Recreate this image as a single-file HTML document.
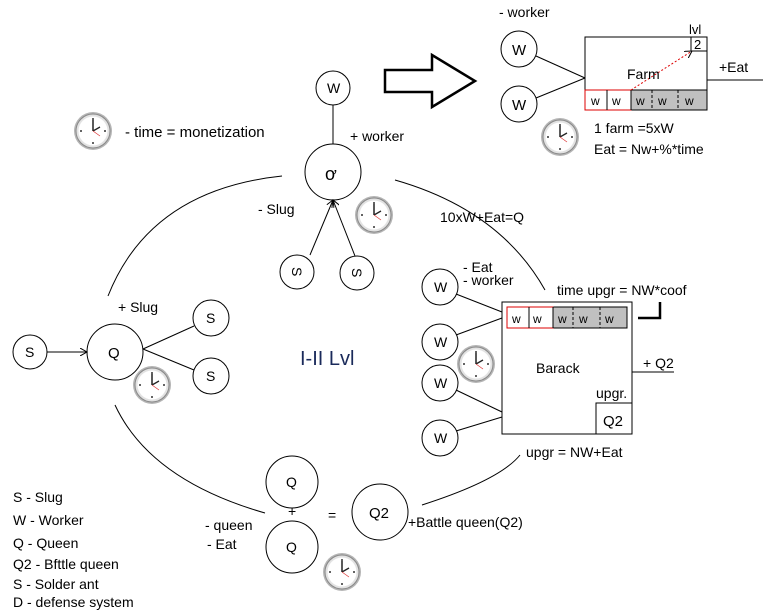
<!DOCTYPE html>
<html><head><meta charset="utf-8"><style>
html,body{margin:0;padding:0;background:#fff;}
svg{display:block;font-family:"Liberation Sans",sans-serif;}
</style></head><body>
<svg width="771" height="616" viewBox="0 0 771 616" xmlns="http://www.w3.org/2000/svg" font-size="14">
<defs>
<g id="clk">
<circle r="19" fill="#b5b5b5"/><circle r="17" fill="#e2e2e2" stroke="#888" stroke-width="1"/>
<circle r="14.5" fill="#fff"/>
<g fill="#333"><circle cx="0" cy="-12" r="1"/><circle cx="0" cy="12" r="1"/><circle cx="-12" cy="0" r="1"/><circle cx="12" cy="0" r="1"/></g>
<line x1="0" y1="0" x2="0" y2="-11" stroke="#222" stroke-width="1.5"/>
<line x1="0" y1="0" x2="7" y2="-4" stroke="#222" stroke-width="1.3"/>
<line x1="0" y1="0" x2="7" y2="5" stroke="#d33" stroke-width="0.7"/>
</g>
<marker id="ar" markerWidth="8" markerHeight="8" refX="7" refY="4" orient="auto"><path d="M0,0 L7,4 L0,8" fill="none" stroke="#000"/></marker>
</defs>
<g fill="none" stroke="#000" stroke-width="1">
<path d="M385,70 L432,70 L432,55 L475,81 L432,107 L432,92 L385,92 Z" stroke-width="2.5"/>
<rect x="585" y="37" width="122" height="73"/>
<rect x="585" y="90" width="122" height="20" fill="#c0c0c0"/>
<rect x="585" y="90" width="46" height="20" fill="#fff" stroke="#d00"/>
<line x1="607" y1="90" x2="607" y2="110"/><line x1="631" y1="90" x2="631" y2="110"/>
<line x1="652" y1="90" x2="652" y2="110" stroke-dasharray="3,2"/><line x1="678" y1="90" x2="678" y2="110" stroke-dasharray="3,2"/>
<rect x="691" y="37" width="16" height="14"/>
<line x1="631" y1="90" x2="692" y2="51" stroke="#d00" stroke-dasharray="2,2" marker-end="url(#ar)"/>
<line x1="707" y1="80" x2="763" y2="80"/>
<circle cx="519" cy="49" r="18"/><circle cx="519" cy="104" r="18"/>
<line x1="536" y1="56" x2="585" y2="78"/><line x1="536" y1="98" x2="585" y2="78"/>
<circle cx="333" cy="88" r="17"/><line x1="333" y1="105" x2="333" y2="144"/>
<circle cx="333" cy="172" r="28"/>
<circle cx="297" cy="272" r="17"/><circle cx="357" cy="273" r="17"/>
<line x1="310" y1="255" x2="333" y2="200" marker-end="url(#ar)"/><line x1="355" y1="256" x2="333" y2="200" marker-end="url(#ar)"/>
<path d="M282,176 Q150,190 108,296"/>
<path d="M115,405 Q150,480 265,513"/>
<path d="M395,180 Q500,210 545,290"/>
<path d="M422,505 Q500,480 520,455"/>
<circle cx="30" cy="352" r="17"/><line x1="47" y1="352" x2="87" y2="352" marker-end="url(#ar)"/>
<circle cx="115" cy="352" r="28"/>
<circle cx="211" cy="318" r="18"/><circle cx="211" cy="376" r="18"/>
<line x1="143" y1="349" x2="194" y2="326"/><line x1="143" y1="349" x2="194" y2="370"/>
<rect x="502" y="302" width="130" height="132"/>
<rect x="507" y="307" width="120" height="21" fill="#c0c0c0"/>
<rect x="507" y="307" width="46" height="21" fill="#fff" stroke="#d00"/>
<line x1="529" y1="307" x2="529" y2="328"/><line x1="553" y1="307" x2="553" y2="328"/>
<line x1="573" y1="307" x2="573" y2="328" stroke-dasharray="3,2"/><line x1="600" y1="307" x2="600" y2="328" stroke-dasharray="3,2"/>
<rect x="596" y="403" width="36" height="31"/>
<path d="M638,318 L660,318 L660,302" stroke-width="2.5"/>
<line x1="632" y1="372" x2="674" y2="372"/>
<circle cx="440" cy="287" r="18"/><circle cx="440" cy="342" r="18"/><circle cx="440" cy="383" r="18"/><circle cx="440" cy="438" r="18"/>
<line x1="456" y1="294" x2="502" y2="312"/><line x1="456" y1="335" x2="502" y2="318"/>
<line x1="456" y1="390" x2="502" y2="412"/><line x1="456" y1="431" x2="502" y2="417"/>
<circle cx="292" cy="482" r="26"/><circle cx="292" cy="547" r="26"/>
<circle cx="380" cy="512" r="28"/>
</g>
<use href="#clk" x="560" y="137"/><use href="#clk" x="374" y="215"/><use href="#clk" x="93" y="131"/>
<use href="#clk" x="152" y="385"/><use href="#clk" x="476" y="364"/><use href="#clk" x="342" y="572"/>
<text x="499" y="17">- worker</text>
<text x="512" y="55" font-size="15">W</text><text x="512" y="110" font-size="15">W</text>
<text x="689" y="34" font-size="13">lvl</text><text x="694" y="49" font-size="13">2</text>
<text x="627" y="79">Farm</text>
<g font-size="12"><text x="591" y="105">w</text><text x="612" y="105">w</text><text x="636" y="105">w</text><text x="658" y="105">w</text><text x="685" y="105">w</text>
<text x="512" y="323">w</text><text x="533" y="323">w</text><text x="558" y="323">w</text><text x="579" y="323">w</text><text x="605" y="323">w</text></g>
<text x="719" y="72">+Eat</text>
<text x="594" y="133">1 farm =5xW</text><text x="594" y="154">Eat = Nw+%*time</text>
<text x="327" y="93">W</text><text x="325" y="180" font-size="18">ơ</text><text x="350" y="141">+ worker</text>
<text x="258" y="214">- Slug</text>
<text x="292" y="277" transform="rotate(90 297 272)">S</text><text x="352" y="278" transform="rotate(90 357 273)">S</text>
<text x="125" y="137" font-size="15">- time = monetization</text>
<text x="440" y="222">10xW+Eat=Q</text>
<text x="25" y="357">S</text><text x="108" y="358" font-size="15">Q</text><text x="206" y="323">S</text><text x="206" y="381">S</text>
<text x="118" y="312">+ Slug</text>
<text x="300" y="365" font-size="20" fill="#1a2a5a">I-II Lvl</text>
<text x="434" y="292">W</text><text x="434" y="347">W</text><text x="434" y="388">W</text><text x="434" y="443">W</text>
<text x="463" y="272">- Eat</text><text x="463" y="285">- worker</text>
<text x="557" y="295">time upgr = NW*coof</text>
<text x="536" y="373">Barack</text>
<text x="596" y="398">upgr.</text><text x="603" y="426" font-size="15">Q2</text>
<text x="643" y="368">+ Q2</text>
<text x="526" y="457">upgr = NW+Eat</text>
<text x="286" y="487">Q</text><text x="286" y="552">Q</text><text x="288" y="516">+</text><text x="328" y="520">=</text>
<text x="369" y="518" font-size="15">Q2</text><text x="408" y="527">+Battle queen(Q2)</text>
<text x="205" y="530">- queen</text><text x="207" y="549">- Eat</text>
<text x="13" y="502">S - Slug</text><text x="13" y="525">W - Worker</text><text x="13" y="548">Q - Queen</text>
<text x="13" y="569">Q2 - Bfttle queen</text><text x="13" y="589">S - Solder ant</text><text x="13" y="607">D - defense system</text>
</svg>
</body></html>
